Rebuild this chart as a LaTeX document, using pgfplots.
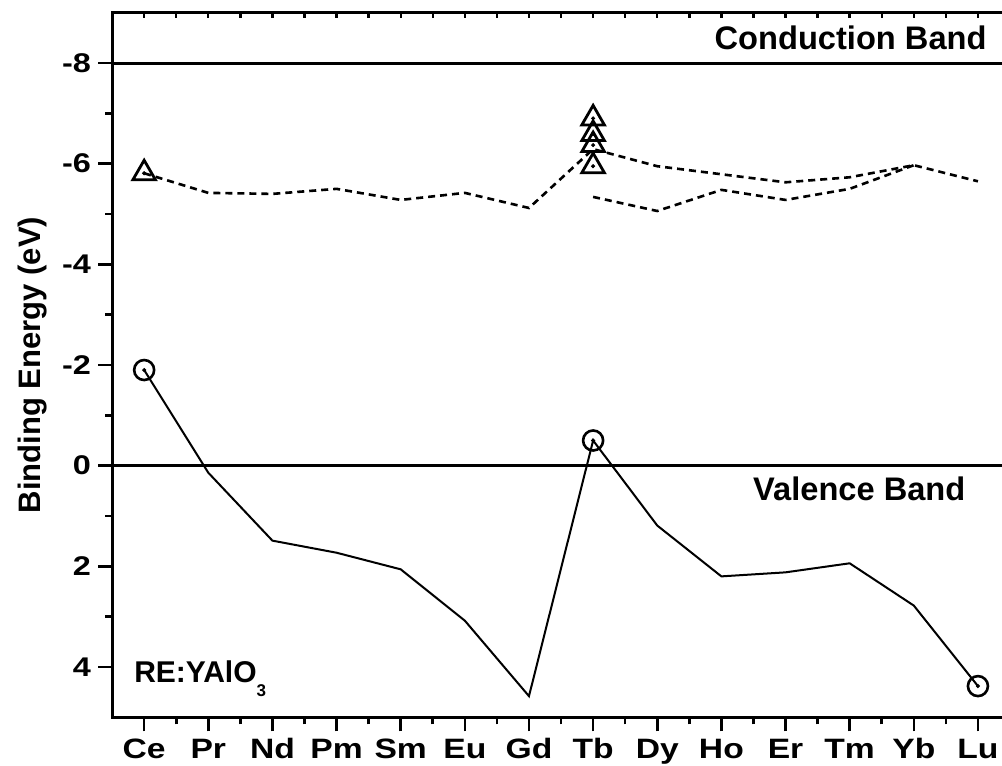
\documentclass[border=0pt]{standalone}
\usepackage{pgfplots}
\pgfplotsset{compat=1.18}
\usepackage{fontspec}
\setmainfont{Liberation Sans}
\newfontfamily\tickfont{Liberation Sans}[FakeStretch=1.2]

\begin{document}
\begin{tikzpicture}
\begin{axis}[
  width=448.6pt, height=352pt, scale only axis,
  xmin=-0.5, xmax=13.5, ymin=-9, ymax=5, y dir=reverse,
  xtick={0,...,13},
  xticklabels={Ce,Pr,Nd,Pm,Sm,Eu,Gd,Tb,Dy,Ho,Er,Tm,Yb,Lu},
  minor x tick num=1,
  ytick={-8,-6,-4,-2,0,2,4},
  yticklabels={-8,-6,-4,-2,0,2,4},
  minor y tick num=1,
  xtick pos=bottom, ytick pos=left,
  tick align=outside,
  major tick length=7pt, minor tick length=3.5pt,
  every tick/.style={black, line width=1.3pt},
  axis line style={line width=1.5pt},
  xticklabel style={font=\tickfont\bfseries\fontsize{14}{14}\selectfont,
     anchor=north, text height=10pt, text depth=3pt},
  yticklabel style={font=\tickfont\bfseries\fontsize{13.5}{14}\selectfont},
  ylabel={Binding Energy (eV)},
  every axis y label/.style={at={(rel axis cs:0,0.5)}, xshift=-36pt, rotate=90, anchor=base,
     font=\bfseries\fontsize{15.5}{16}\selectfont},
  clip=false,
]
% reference lines
\addplot[black, line width=1.5pt] coordinates {(-0.5,-8) (13.5,-8)};
\addplot[black, line width=1.5pt] coordinates {(-0.5,0) (13.5,0)};
% solid line
\addplot[black, line width=1pt] coordinates {
(0,-1.9) (1,0.14) (2,1.49) (3,1.73) (4,2.06) (5,3.08) (6,4.58) (7,-0.50)
(8,1.19) (9,2.2) (10,2.12) (11,1.94) (12,2.78) (13,4.38)};
% dashed upper
\addplot[black, line width=1.3pt, dash pattern=on 3.5pt off 2.5pt] coordinates {
(0,-5.81) (1,-5.42) (2,-5.40) (3,-5.50) (4,-5.28) (5,-5.42) (6,-5.12) (7,-6.29)
(8,-5.95) (9,-5.79) (10,-5.63) (11,-5.73) (12,-5.97) (13,-5.65)};
% dashed lower
\addplot[black, line width=1.3pt, dash pattern=on 3.5pt off 2.5pt] coordinates {
(7,-5.34) (8,-5.06) (9,-5.48) (10,-5.28) (11,-5.50) (12,-5.97)};
% circles
\addplot[only marks, mark=o, mark size=5pt, mark options={line width=1.3pt, black}] coordinates {
(0,-1.9) (7,-0.50) (13,4.38)};
\addplot[only marks, mark=*, mark size=0.8pt, black] coordinates {
(0,-1.9) (7,-0.50) (13,4.38)};
% triangles
\addplot[only marks, mark=triangle, mark size=6.5pt, mark options={line width=1.4pt, black}] coordinates {
(0,-5.81) (7,-6.90) (7,-6.59) (7,-6.37) (7,-5.95)};
\addplot[only marks, mark=*, mark size=0.8pt, black] coordinates {
(0,-5.81) (7,-6.90) (7,-6.59) (7,-6.37) (7,-5.95)};
% texts
\node[anchor=base east, inner sep=0pt, font=\bfseries\fontsize{16.3}{17}\selectfont]
  at (axis cs:13.14,-8) [yshift=7pt] {Conduction Band};
\node[anchor=base west, inner sep=0pt, font=\bfseries\fontsize{16.3}{17}\selectfont]
  at (axis cs:9.49,0.70) {Valence Band};
\node[anchor=base west, inner sep=0pt, font=\bfseries\fontsize{15}{16}\selectfont]
  at (axis cs:-0.16,4.31) {RE:YAlO\raisebox{-7pt}{\fontsize{8.5}{9}\selectfont 3}};
\coordinate (BL) at (axis cs:-0.5,5);
\coordinate (TR) at (axis cs:13.5,-9);
\end{axis}
\begin{axis}[
  width=448.6pt, height=352pt, scale only axis,
  xmin=-0.5, xmax=13.5, ymin=-9, ymax=5, y dir=reverse,
  axis x line*=top, axis y line=none,
  xtick={0,...,13}, xticklabels={}, minor x tick num=1,
  tick align=inside,
  major tick length=2.5pt, minor tick length=2.5pt,
  every tick/.style={black, line width=1.2pt},
  axis line style={line width=1.5pt, -},
]
\end{axis}
\pgfresetboundingbox
\path[use as bounding box] ([xshift=-56pt,yshift=-24pt]BL) rectangle ([xshift=-4pt,yshift=6.35pt]TR);
\end{tikzpicture}
\end{document}
